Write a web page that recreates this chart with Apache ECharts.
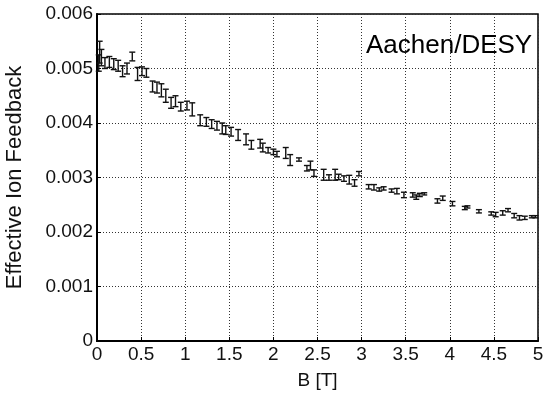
<!DOCTYPE html>
<html>
<head>
<meta charset="utf-8">
<script src="https://cdn.jsdelivr.net/npm/echarts@6/dist/echarts.min.js"></script>
<style>
  html, body { margin: 0; padding: 0; background: #fff; }
  #chart { width: 546px; height: 395px; }
</style>
</head>
<body>
<div id="chart"></div>
<script>
// magnetic field [T]
const bField = [
  0.02, 0.03, 0.05, 0.09, 0.14, 0.19, 0.24, 0.29, 0.34, 0.40,
  0.46, 0.51, 0.56, 0.63, 0.68, 0.73, 0.78, 0.84, 0.89, 0.95,
  1.02, 1.08, 1.17, 1.24, 1.30, 1.36, 1.42, 1.46, 1.52, 1.60,
  1.69, 1.75, 1.85, 1.88, 1.94, 2.00, 2.04, 2.14, 2.19, 2.29,
  2.38, 2.42, 2.46, 2.57, 2.63, 2.70, 2.74, 2.80, 2.86, 2.92,
  2.97, 3.08, 3.14, 3.20, 3.25, 3.34, 3.40, 3.48, 3.58, 3.62,
  3.66, 3.71, 3.86, 3.92, 4.03, 4.17, 4.20, 4.33, 4.47, 4.52,
  4.60, 4.66, 4.73, 4.79, 4.85, 4.93, 4.97
];
// effective ion feedback
const feedback = [
  0.00510, 0.00530, 0.00520, 0.00510, 0.00512, 0.00508, 0.00505, 0.00495, 0.00500, 0.00522,
  0.00490, 0.00495, 0.00492, 0.00467, 0.00465, 0.00460, 0.00450, 0.00437, 0.00440, 0.00430,
  0.00432, 0.00425, 0.00405, 0.00402, 0.00398, 0.00395, 0.00390, 0.00387, 0.00384, 0.00378,
  0.00370, 0.00360, 0.00362, 0.00355, 0.00350, 0.00347, 0.00343, 0.00345, 0.00332, 0.00333,
  0.00317, 0.00322, 0.00308, 0.00305, 0.00300, 0.00305, 0.00301, 0.00298, 0.00296, 0.00290,
  0.00307, 0.00283, 0.00282, 0.00278, 0.00280, 0.00276, 0.00275, 0.00268, 0.00268, 0.00264,
  0.00268, 0.00270, 0.00257, 0.00262, 0.00252, 0.00244, 0.00246, 0.00238, 0.00234, 0.00232,
  0.00235, 0.00240, 0.00230, 0.00226, 0.00226, 0.00228, 0.00228
];
// half error bar
const errs = [
  0.00015, 0.00020, 0.00015, 0.00010, 0.00010, 0.00010, 0.00010, 0.00010, 0.00010, 0.00008,
  0.00012, 0.00008, 0.00008, 0.00010, 0.00010, 0.00012, 0.00012, 0.00010, 0.00010, 0.00008,
  0.00008, 0.00012, 0.00010, 0.00008, 0.00008, 0.00008, 0.00010, 0.00008, 0.00008, 0.00010,
  0.00010, 0.00008, 0.00008, 0.00008, 0.00005, 0.00005, 0.00005, 0.00010, 0.00010, 0.00003,
  0.00005, 0.00008, 0.00006, 0.00010, 0.00005, 0.00010, 0.00005, 0.00005, 0.00008, 0.00006,
  0.00004, 0.00004, 0.00005, 0.00003, 0.00003, 0.00003, 0.00005, 0.00005, 0.00004, 0.00004,
  0.00003, 0.00002, 0.00004, 0.00004, 0.00004, 0.00003, 0.00002, 0.00003, 0.00003, 0.00004,
  0.00004, 0.00003, 0.00004, 0.00004, 0.00003, 0.00002, 0.00002
];

const chart = echarts.init(document.getElementById('chart'));
const font = 'Liberation Sans, Arial, sans-serif';

const errData = bField.map((b, i) => [b, feedback[i] - errs[i], feedback[i] + errs[i]]);

function renderErr(params, api) {
  const lo = api.coord([api.value(0), api.value(1)]);
  const hi = api.coord([api.value(0), api.value(2)]);
  const w = 3;
  const style = { stroke: '#111', lineWidth: 1.4 };
  return {
    type: 'group',
    children: [
      { type: 'line', shape: { x1: lo[0], y1: lo[1], x2: hi[0], y2: hi[1] }, style },
      { type: 'line', shape: { x1: lo[0] - w, y1: lo[1], x2: lo[0] + w, y2: lo[1] }, style },
      { type: 'line', shape: { x1: hi[0] - w, y1: hi[1], x2: hi[0] + w, y2: hi[1] }, style }
    ]
  };
}

const option = {
  backgroundColor: '#fff',
  animation: false,
  title: {
    text: 'Aachen/DESY',
    left: 361,
    top: 28,
    textStyle: { fontFamily: font, fontSize: 26, fontWeight: 'normal', color: '#000' }
  },
  grid: {
    left: 97, right: 8, top: 14, bottom: 54,
    outerBoundsMode: 'none',
    show: true, borderColor: '#000', borderWidth: 1.5
  },
  xAxis: {
    type: 'value',
    min: 0, max: 5, interval: 0.5,
    name: 'B [T]',
    nameLocation: 'middle',
    nameGap: 30,
    nameTextStyle: { fontFamily: font, fontSize: 19, color: '#111' },
    axisLine: { show: true, lineStyle: { color: '#000', width: 2 } },
    axisTick: { show: true, inside: true, length: 4, lineStyle: { color: '#000' } },
    axisLabel: { fontFamily: font, fontSize: 19, color: '#111', margin: 4 },
    splitLine: { show: true, lineStyle: { color: '#333', type: [1, 2], width: 1 } }
  },
  yAxis: {
    type: 'value',
    min: 0, max: 0.006, interval: 0.001,
    name: 'Effective Ion Feedback',
    nameLocation: 'middle',
    nameGap: 71,
    nameTextStyle: { fontFamily: font, fontSize: 22, color: '#111' },
    axisLine: { show: true, lineStyle: { color: '#000', width: 2 } },
    axisTick: { show: true, inside: true, length: 4, lineStyle: { color: '#000' } },
    axisLabel: { fontFamily: font, fontSize: 19, color: '#111', margin: 4 },
    splitLine: { show: true, lineStyle: { color: '#333', type: [1, 2], width: 1 } }
  },
  series: [
    {
      type: 'custom',
      renderItem: renderErr,
      encode: { x: 0, y: [1, 2] },
      data: errData,
      z: 5
    }
  ]
};

chart.setOption(option);
</script>
</body>
</html>
